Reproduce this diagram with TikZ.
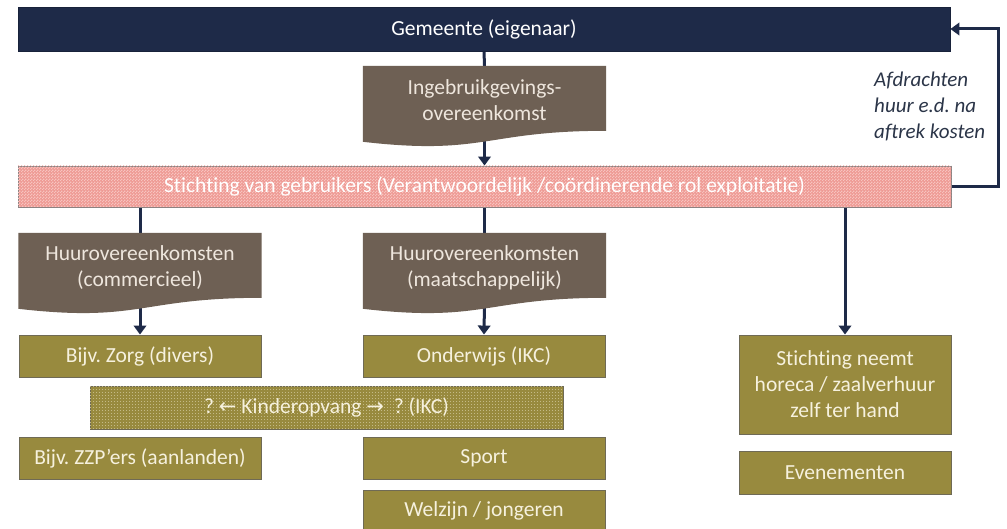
\documentclass[tikz,border=0pt]{standalone}
\usepackage{fontspec}
\setmainfont{Carlito}[Ligatures={NoCommon}]
\newfontfamily\symfont{DejaVu Sans}
\usetikzlibrary{arrows.meta,patterns,calc}
\frenchspacing
\definecolor{navy}{HTML}{1E2A48}
\definecolor{brownfill}{HTML}{6E6054}
\definecolor{olivefill}{HTML}{988A3E}
\definecolor{oliveborder}{HTML}{6F6A55}
\definecolor{cream}{HTML}{F6F1DE}
\definecolor{doctext}{HTML}{EEE6DD}
\definecolor{pinkfill}{HTML}{EE9A94}
\definecolor{pinklight}{HTML}{F7C3BF}
\definecolor{pinkborder}{HTML}{8C8282}
\definecolor{dotcol}{HTML}{C4BA86}
\definecolor{lbltext}{HTML}{2B3548}
\pgfdeclarepatternformonly{finecheck}{\pgfpointorigin}{\pgfqpoint{3pt}{3pt}}{\pgfqpoint{3pt}{3pt}}{%
  \pgfpathrectangle{\pgfpointorigin}{\pgfqpoint{1.5pt}{1.5pt}}%
  \pgfpathrectangle{\pgfqpoint{1.5pt}{1.5pt}}{\pgfqpoint{1.5pt}{1.5pt}}%
  \pgfusepath{fill}}
\pgfdeclarepatternformonly{finedots}{\pgfpointorigin}{\pgfqpoint{2.5pt}{2.5pt}}{\pgfqpoint{2.5pt}{2.5pt}}{%
  \pgfpathrectangle{\pgfpointorigin}{\pgfqpoint{1pt}{1pt}}%
  \pgfusepath{fill}}
\pgfdeclarelayer{conn}
\pgfdeclarelayer{shp}
\pgfsetlayers{conn,shp,main}
\newcommand\mydocshape[1]{%
  \fill[brownfill] (#1.north west) -- (#1.north east) -- ($(#1.north east)+(0,65)$)
    .. controls ($(#1.north)+(0,65)$) and ($(#1.north)+(0,90)$) .. ($(#1.north west)+(0,76)$) -- cycle;}
\newcommand\larr{{\symfont\fontsize{21}{20}\selectfont ←}}
\newcommand\rarr{{\symfont\fontsize{21}{20}\selectfont →}}
\begin{document}
\begin{tikzpicture}[x=1pt,y=-1pt,
  font=\fontsize{21.5}{26}\selectfont,
  box/.style={draw=oliveborder, line width=0.9pt, fill=olivefill, text=cream, align=center,
    inner sep=0pt, minimum width=242pt, minimum height=42pt},
  gembox/.style={draw=navy!80!black, line width=0.8pt, fill=navy, text=white, inner sep=0pt,
    minimum width=932pt, minimum height=44pt},
  band/.style={draw=pinkborder, line width=0.9pt, fill=pinkfill, text=white, inner sep=0pt,
    minimum width=933pt, minimum height=41pt,
    postaction={pattern=finecheck, pattern color=pinklight}},
  dotband/.style={box, minimum width=473pt, minimum height=43pt,
    postaction={pattern=finedots, pattern color=dotcol}},
  docnode/.style={text=doctext, align=center, inner sep=0pt, minimum width=243pt, minimum height=69pt},
  lbl/.style={text=lbltext, align=left, inner sep=0pt, font=\fontsize{21}{26}\selectfont\itshape},
  conn/.style={draw=navy, line width=3pt},
  arr/.style={conn, -{Triangle[width=12.5pt,length=9pt]}}]
\useasboundingbox (0,0) rectangle (1007,529);

\node[gembox] (gem) at (484,29) {Gemeente (eigenaar)};
\node[docnode] (ing) at (484.5,100.5) {Ingebruikgevings-\\overeenkomst};
\node[band] (sticht) at (484.5,186.5) {Stichting van gebruikers (Verantwoordelijk /coördinerende rol exploitatie)};
\node[lbl, anchor=west] (lab) at (874,106) {Afdrachten\\huur e.d. na\\aftrek kosten};

\node[docnode] (huur1) at (140,267.5) {Huurovereenkomsten\\(commercieel)};
\node[docnode] (huur2) at (484.5,267.5) {Huurovereenkomsten\\(maatschappelijk)};

\node[box] (zorg) at (140,356) {Bijv. Zorg (divers)};
\node[box] (onder) at (484,356) {Onderwijs (IKC)};
\node[dotband] (kinder) at (326.5,407.5) {? \larr\ Kinderopvang \rarr\ \ ? (IKC)};
\node[box] (zzp) at (140,458) {Bijv. ZZP’ers (aanlanden)};
\node[box] (sport) at (484,458) {Sport};
\node[box] (welz) at (484,511) {Welzijn / jongeren};
\node[box, minimum width=212pt, minimum height=99pt] (zelf) at (845,384.5) {Stichting neemt\\horeca / zaalverhuur\\zelf ter hand};
\node[box, minimum width=212pt, minimum height=43pt] (even) at (845,472.5) {Evenementen};

\begin{pgfonlayer}{shp}
  \mydocshape{ing}
  \mydocshape{huur1}
  \mydocshape{huur2}
\end{pgfonlayer}

\begin{pgfonlayer}{conn}
  \fill[white] (0,0) rectangle (1007,529);
  \draw[conn] (gem.south) -- (ing.north);
  \draw[arr] (ing.south) -- (sticht.north);
  \draw[conn] (sticht.south -| huur1.north) -- (huur1.north);
  \draw[conn] (sticht.south -| huur2.north) -- (huur2.north);
  \draw[arr] (sticht.south -| zelf.north) -- (zelf.north);
  \draw[arr] (huur1.south) -- (zorg.north);
  \draw[arr] (huur2.south) -- (onder.north);
  \draw[arr] (sticht.east) -- ++(47,0) |- (gem.east);
\end{pgfonlayer}
\end{tikzpicture}
\end{document}
